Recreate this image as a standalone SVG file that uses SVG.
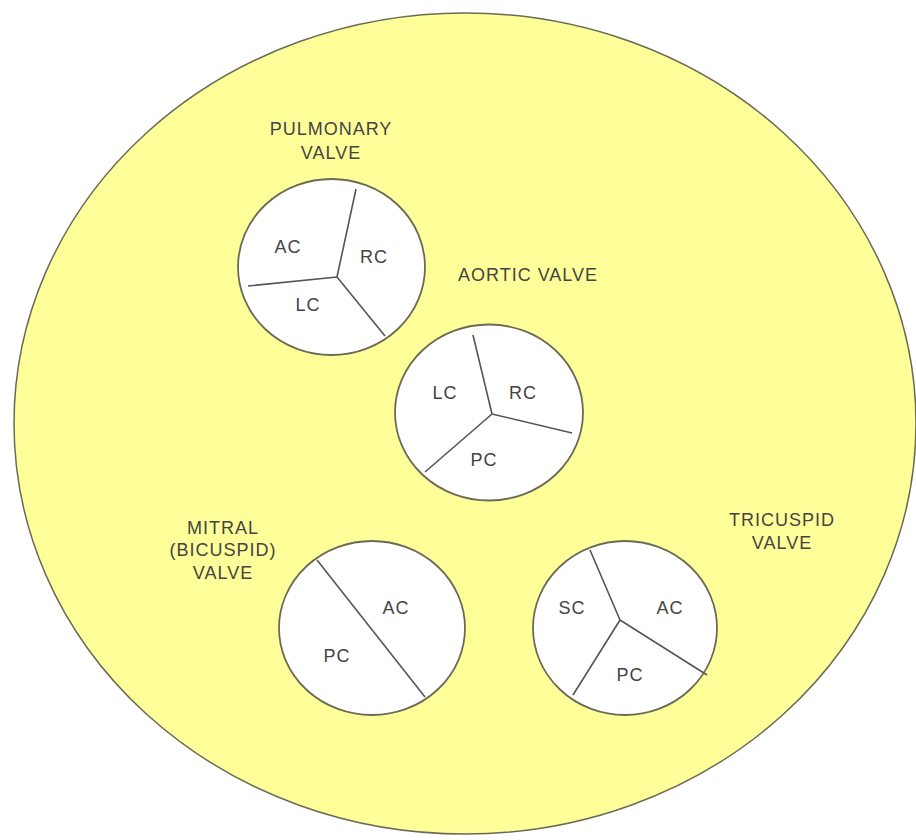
<svg xmlns="http://www.w3.org/2000/svg" width="916" height="840" viewBox="0 0 916 840">
<style>
.bg{fill:#FFFF99;stroke:#6b6b55;stroke-width:1.5}
.valve{fill:#FFFFFF;stroke:#6b6b55;stroke-width:1.8}
.cusp{stroke:#555555;stroke-width:1.6;fill:none}
text{font-family:"Liberation Sans",Arial,sans-serif;font-size:18px;letter-spacing:1px;fill:#444444;text-anchor:middle}
</style>
<rect width="916" height="840" fill="#FFFFFF"/>
<ellipse class="bg" cx="465" cy="423.5" rx="451" ry="410.5"/>
<g id="pulmonary">
<text x="331" y="135">PULMONARY</text>
<text x="331" y="159">VALVE</text>
<ellipse class="valve" cx="331.5" cy="267" rx="93.5" ry="88"/>
<path class="cusp" d="M337 277 L356 189 M337 277 L248 286 M337 277 L385 336"/>
<text x="288" y="253">AC</text>
<text x="374" y="263">RC</text>
<text x="308" y="311">LC</text>
</g>
<g id="aortic">
<text x="528" y="281">AORTIC VALVE</text>
<ellipse class="valve" cx="489" cy="412.5" rx="94" ry="88"/>
<path class="cusp" d="M492 414 L473 335 M492 414 L572 433 M492 414 L425 472"/>
<text x="445" y="399">LC</text>
<text x="523" y="399">RC</text>
<text x="484" y="466">PC</text>
</g>
<g id="mitral">
<text x="223" y="534">MITRAL</text>
<text x="223" y="556">(BICUSPID)</text>
<text x="223" y="579">VALVE</text>
<ellipse class="valve" cx="372" cy="628" rx="93" ry="87"/>
<path class="cusp" d="M317 560 L425 697"/>
<text x="396" y="614">AC</text>
<text x="337" y="662">PC</text>
</g>
<g id="tricuspid">
<text x="782" y="526">TRICUSPID</text>
<text x="782" y="549">VALVE</text>
<ellipse class="valve" cx="625" cy="628" rx="92" ry="87"/>
<path class="cusp" d="M620 620 L590 550 M620 620 L573 695 M620 620 L707 675"/>
<text x="572" y="614">SC</text>
<text x="670" y="614">AC</text>
<text x="630" y="681">PC</text>
</g>
<g id="connectors"></g>
</svg>
